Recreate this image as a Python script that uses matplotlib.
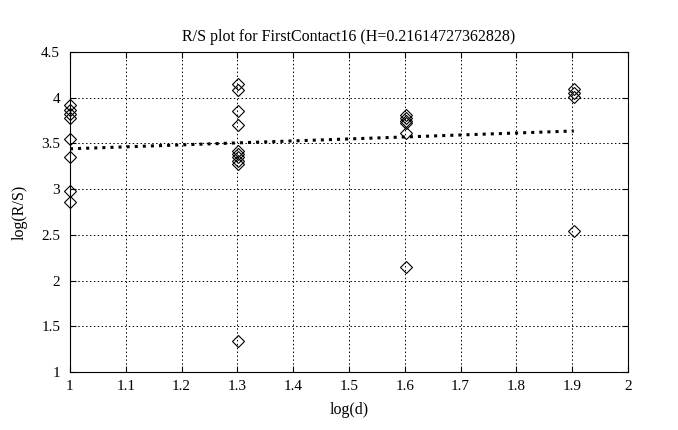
import numpy as np
import matplotlib.pyplot as plt

plt.rcParams['font.family'] = ['Liberation Serif', 'DejaVu Serif']

# log(d) values, one per group of points (d = 10, 20, 40, 80)
log_d = [1.0, 1.301, 1.602, 1.903]

rs_10 = [3.92, 3.87, 3.82, 3.78, 3.55, 3.35, 2.98, 2.86]
rs_20 = [4.15, 4.08, 3.86, 3.70, 3.42, 3.38, 3.35, 3.31, 3.28, 1.34]
rs_40 = [3.81, 3.78, 3.75, 3.72, 3.61, 2.15]
rs_80 = [4.10, 4.05, 4.01, 2.54]

H = 0.21614727362828
intercept = 3.225

groups = [rs_10, rs_20, rs_40, rs_80]

fig = plt.figure(figsize=(6.78, 4.30), dpi=100)
ax = fig.add_axes([0.1032, 0.135, 0.8230, 0.744])

for xv, ys in zip(log_d, groups):
    ax.plot([xv] * len(ys), ys, 'D', markersize=6, markerfacecolor='none',
            markeredgecolor='black', markeredgewidth=0.8, clip_on=False, zorder=3)

xf = np.array([log_d[0], log_d[-1]])
ax.plot(xf, intercept + H * xf, color='black', linestyle=':', linewidth=2.2)

ax.set_xlim(1, 2)
ax.set_ylim(1, 4.5)
ax.set_xticks(np.arange(1, 2.01, 0.1))
ax.set_xticklabels(['1', '1.1', '1.2', '1.3', '1.4', '1.5', '1.6', '1.7', '1.8', '1.9', '2'])
ax.set_yticks(np.arange(1, 4.51, 0.5))
ax.set_yticklabels(['1', '1.5', '2', '2.5', '3', '3.5', '4', '4.5'])
ax.grid(True, color='black', linestyle=(0, (1.5, 2.5)), linewidth=0.7)
ax.tick_params(direction='in', top=True, right=True, labelsize=11, length=4)
ax.tick_params(axis='y', pad=7)
ax.tick_params(axis='x', pad=6)
for s in ax.spines.values():
    s.set_linewidth(0.8)

ax.set_title('R/S plot for FirstContact16 (H=0.21614727362828)', fontsize=11.5, pad=8)
ax.set_xlabel('log(d)', fontsize=11.5, labelpad=6)
ax.set_ylabel('log(R/S)', fontsize=11.5, labelpad=10)

fig.savefig('out.png', dpi=100)
